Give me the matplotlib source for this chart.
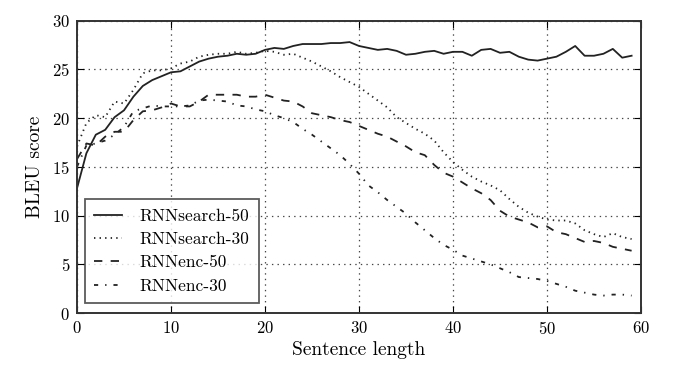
import numpy as np
import matplotlib
matplotlib.use('Agg')
import matplotlib.pyplot as plt

plt.rcParams['font.family'] = 'cmr10'
plt.rcParams['mathtext.fontset'] = 'cm'
plt.rcParams['axes.formatter.use_mathtext'] = True
plt.rcParams['lines.scale_dashes'] = False

# BLEU scores by sentence length
lengths = np.arange(0, 60)

rnnsearch_50 = [12.8, 16.4, 18.3, 18.8, 20.1, 20.8, 22.2, 23.3, 23.9, 24.3,
                24.7, 24.8, 25.3, 25.8, 26.1, 26.3, 26.4, 26.6, 26.5, 26.6,
                27.0, 27.2, 27.1, 27.4, 27.6, 27.6, 27.6, 27.7, 27.7, 27.8,
                27.4, 27.2, 27.0, 27.1, 26.9, 26.5, 26.6, 26.8, 26.9, 26.6,
                26.8, 26.8, 26.4, 27.0, 27.1, 26.7, 26.8, 26.3, 26.0, 25.9,
                26.1, 26.3, 26.8, 27.4, 26.4, 26.4, 26.6, 27.1, 26.2, 26.4]

rnnsearch_30 = [17.1, 19.5, 20.3, 20.1, 21.7, 21.5, 22.9, 24.6, 24.9, 24.9,
                25.1, 25.6, 25.8, 26.3, 26.5, 26.6, 26.6, 26.8, 26.6, 26.7,
                26.9, 26.8, 26.5, 26.6, 26.2, 25.8, 25.3, 24.8, 24.2, 23.7,
                23.2, 22.5, 21.8, 21.1, 20.1, 19.5, 18.9, 18.4, 17.7, 16.5,
                15.5, 14.7, 14.0, 13.5, 13.1, 12.6, 11.7, 10.9, 10.3, 9.9,
                9.6, 9.5, 9.5, 9.2, 8.5, 8.1, 7.8, 8.2, 7.8, 7.6]

rnnenc_50 = [15.8, 17.4, 17.2, 18.1, 18.6, 18.6, 19.8, 20.7, 20.8, 21.1,
             21.5, 21.2, 21.2, 21.7, 22.4, 22.4, 22.4, 22.4, 22.2, 22.2,
             22.4, 22.1, 21.8, 21.7, 21.2, 20.5, 20.3, 20.1, 19.8, 19.6,
             19.2, 18.8, 18.4, 18.1, 17.6, 17.1, 16.5, 16.2, 15.2, 14.4,
             14.0, 13.4, 12.8, 12.3, 11.6, 10.5, 9.9, 9.6, 9.3, 8.8,
             8.9, 8.3, 8.1, 7.7, 7.3, 7.4, 7.2, 6.8, 6.6, 6.4]

rnnenc_30 = [15.0, 17.2, 17.4, 17.7, 18.3, 19.1, 20.7, 21.0, 21.3, 21.2,
             21.2, 21.2, 21.3, 21.8, 21.9, 21.8, 21.7, 21.3, 21.2, 20.9,
             20.7, 20.3, 20.0, 19.6, 18.9, 18.3, 17.6, 16.9, 16.2, 15.3,
             14.3, 13.1, 12.4, 11.6, 10.9, 10.2, 9.3, 8.5, 7.7, 7.0,
             6.5, 5.9, 5.6, 5.3, 5.0, 4.6, 4.2, 3.7, 3.6, 3.5,
             3.3, 3.0, 2.7, 2.3, 2.1, 1.9, 1.8, 1.9, 1.9, 1.8]

fig = plt.figure(figsize=(6.9, 3.75), dpi=100)
ax = fig.add_axes([0.1116, 0.165, 0.8174, 0.78])

c = '#222222'
ax.plot(lengths, rnnsearch_50, color=c, lw=1.3, linestyle='-', label='RNNsearch-50')
ax.plot(lengths, rnnsearch_30, color=c, lw=1.3, linestyle=(0, (1, 3)), label='RNNsearch-30')
ax.plot(lengths, rnnenc_50, color=c, lw=1.3, linestyle=(0, (6, 6)), label='RNNenc-50')
ax.plot(lengths, rnnenc_30, color=c, lw=1.3, linestyle=(0, (3, 5, 1, 5)), label='RNNenc-30')

ax.set_xlim(0, 60)
ax.set_ylim(0, 30)
ax.set_xticks(range(0, 61, 10))
ax.set_yticks(range(0, 31, 5))
ax.grid(True, linestyle=(0, (1, 3)), color='#444444', lw=0.9)
ax.tick_params(direction='in', top=True, right=True, labelsize=12, length=5, pad=5)
for s in ax.spines.values():
    s.set_linewidth(1.4)
    s.set_color('#333333')

ax.set_xlabel('Sentence length', fontsize=14, labelpad=3)
ax.set_ylabel('BLEU score', fontsize=14, labelpad=6)

leg = ax.legend(loc='lower left', fontsize=12.5, handlelength=1.6, handletextpad=1.0,
                borderpad=0.55, labelspacing=0.45, fancybox=False, borderaxespad=0,
                bbox_to_anchor=(0.014, 0.034))
leg.get_frame().set_edgecolor('#333333')
leg.get_frame().set_linewidth(1.3)

fig.savefig('out.png', dpi=100)
